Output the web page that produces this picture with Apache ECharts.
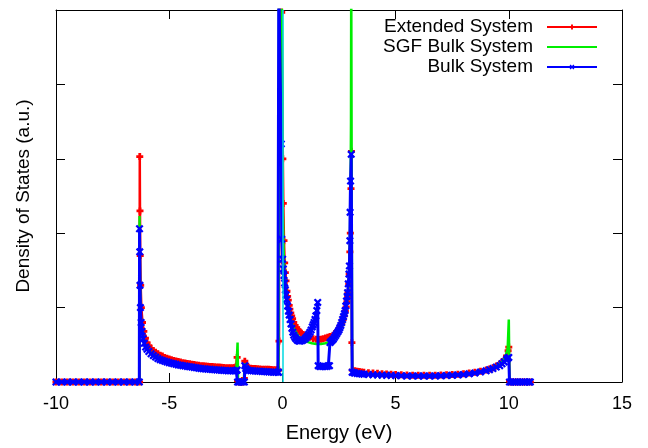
<!DOCTYPE html>
<html><head><meta charset="utf-8">
<script src="https://cdn.jsdelivr.net/npm/echarts@6/dist/echarts.min.js"></script>
<style>html,body{margin:0;padding:0;background:#fff}#c{width:648px;height:448px}</style>
</head><body><div id="c"></div>
<script>
const seriesNames = ['Extended System', 'SGF Bulk System', 'Bulk System'];
const xTickLabels = ['-10', '-5', '0', '5', '10', '15'];
const xTickValues = [-10, -5, 0, 5, 10, 15];
const fermiEnergy = 0;

const extendedSystem = [
[-10,0],[-9.75,0],[-9.5,0],[-9.25,0],[-9,0],[-8.75,0],[-8.5,0],[-8.25,0],[-8,0],[-7.75,0],[-7.5,0],[-7.25,0],[-7,0],[-6.75,0],[-6.5,0],[-6.31,0],
[-6.30,3.03],[-6.29,2.3],[-6.28,1.7],[-6.26,1.3],[-6.23,1.0],[-6.18,0.8],[-6.12,0.68],[-6.05,0.59],[-5.98,0.53],[-5.9,0.49],[-5.8,0.45],[-5.7,0.42],[-5.6,0.4],[-5.5,0.38],[-5.4,0.36],[-5.3,0.35],[-5.2,0.33],[-5.1,0.32],[-5.0,0.31],[-4.9,0.3],[-4.8,0.29],[-4.7,0.283],[-4.6,0.275],[-4.5,0.268],[-4.4,0.26],[-4.3,0.255],[-4.2,0.25],[-4.1,0.245],[-4.0,0.24],[-3.9,0.235],[-3.8,0.23],[-3.7,0.225],[-3.6,0.22],[-3.5,0.218],[-3.4,0.215],[-3.3,0.212],[-3.2,0.21],[-3.1,0.207],[-3.0,0.205],[-2.9,0.202],[-2.8,0.2],[-2.7,0.197],[-2.6,0.195],[-2.5,0.192],[-2.4,0.19],[-2.3,0.19],[-2.2,0.19],[-2.12,0.19],[-2.06,0.2],
[-2.0,0.33],[-1.98,0.02],[-1.92,0],[-1.84,0],[-1.76,0],[-1.68,0.05],[-1.66,0.28],[-1.62,0.24],[-1.55,0.2],[-1.5,0.19],[-1.4,0.185],[-1.3,0.183],[-1.2,0.18],[-1.1,0.178],[-1.0,0.175],[-0.9,0.173],[-0.8,0.17],[-0.7,0.17],[-0.6,0.17],[-0.5,0.167],[-0.4,0.165],[-0.3,0.163],[-0.2,0.16],[-0.16,0.16],
[-0.15,0.55],[-0.13,5.4],[-0.03,4.97],[0.02,3.0],[0.04,2.4],[0.07,1.9],[0.1,1.6],[0.13,1.47],[0.16,1.36],[0.2,1.22],[0.23,1.15],[0.26,1.1],[0.3,1.03],[0.33,0.98],[0.37,0.93],[0.41,0.89],[0.45,0.85],[0.5,0.8],[0.56,0.76],[0.63,0.73],[0.7,0.7],[0.75,0.68],[0.83,0.66],[0.92,0.64],[1.0,0.625],[1.1,0.61],[1.2,0.6],[1.36,0.58],[1.5,0.575],[1.6,0.57],[1.7,0.575],[1.8,0.58],[1.9,0.59],[2.0,0.6],[2.1,0.61],[2.24,0.63],[2.32,0.65],[2.4,0.68],[2.48,0.71],[2.55,0.75],[2.62,0.79],[2.68,0.84],[2.73,0.89],[2.78,0.95],[2.82,1.01],[2.85,1.08],[2.88,1.14],[2.9,1.2],[2.93,1.32],[2.95,1.45],[2.98,1.75],[3.0,2.0],[3.03,2.6],[3.05,3.1],
[3.07,0.53],[3.09,0.16],[3.2,0.15],[3.3,0.145],[3.4,0.14],[3.5,0.135],[3.6,0.13],[3.8,0.125],[4.0,0.12],[4.2,0.116],[4.4,0.112],[4.6,0.108],[4.8,0.104],[5.0,0.1],[5.25,0.097],[5.5,0.095],[5.75,0.092],[6.0,0.09],[6.25,0.09],[6.5,0.09],[6.75,0.092],[7.0,0.095],[7.25,0.097],[7.5,0.1],[7.75,0.105],[8.0,0.11],[8.25,0.12],[8.5,0.13],[8.75,0.145],[9.0,0.16],[9.15,0.175],[9.3,0.19],[9.45,0.215],[9.6,0.24],[9.7,0.27],[9.8,0.3],[9.9,0.35],[9.97,0.42],[10.0,0.47],
[10.03,0.02],[10.06,0],[10.2,0],[10.35,0],[10.5,0],[10.65,0],[10.8,0],[10.95,0]
];

const sgfBulkSystem = [
[-10,0],[-8,0],[-6.32,0],[-6.31,2.23],[-6.29,1.35],[-6.27,1.0],[-6.24,0.8],[-6.19,0.66],[-6.13,0.57],[-6.06,0.5],[-5.98,0.46],[-5.9,0.42],[-5.8,0.39],[-5.6,0.35],[-5.4,0.32],[-5.2,0.3],[-5.0,0.28],[-4.6,0.25],[-4.2,0.23],[-3.8,0.21],[-3.4,0.195],[-3.0,0.185],[-2.6,0.175],[-2.2,0.17],[-2.03,0.18],
[-1.98,0.53],[-1.96,0.02],[-1.7,0.02],[-1.67,0.25],[-1.6,0.18],[-1.2,0.165],[-0.8,0.16],[-0.4,0.155],[-0.17,0.15],
[-0.15,5.5],[-0.03,5.5],[0.0,2.6],[0.05,1.8],[0.1,1.45],[0.2,1.12],[0.3,0.93],[0.4,0.8],[0.5,0.72],[0.7,0.62],[0.9,0.57],[1.1,0.54],[1.3,0.52],[1.5,0.51],[1.7,0.51],[1.9,0.52],[2.1,0.54],[2.3,0.58],[2.5,0.66],[2.65,0.76],[2.75,0.87],[2.85,1.05],[2.92,1.3],[2.97,1.7],[3.01,2.5],[3.03,3.5],[3.04,5.5],[3.07,5.5],
[3.08,0.13],[3.4,0.12],[4.0,0.105],[5.0,0.09],[6.0,0.085],[7.0,0.09],[8.0,0.105],[8.5,0.12],[9.0,0.15],[9.4,0.2],[9.7,0.27],[9.85,0.34],[9.95,0.45],[10.0,0.84],
[10.03,0],[10.95,0]
];

const bulkSystem = [
[-10,0],[-9.75,0],[-9.5,0],[-9.25,0],[-9,0],[-8.75,0],[-8.5,0],[-8.25,0],[-8,0],[-7.75,0],[-7.5,0],[-7.25,0],[-7,0],[-6.75,0],[-6.5,0],[-6.32,0],
[-6.31,2.06],[-6.30,1.75],[-6.29,1.3],[-6.27,1.0],[-6.24,0.8],[-6.2,0.68],[-6.15,0.58],[-6.1,0.52],[-6.04,0.47],[-5.98,0.44],[-5.9,0.41],[-5.8,0.38],[-5.7,0.355],[-5.6,0.335],[-5.5,0.315],[-5.4,0.3],[-5.3,0.29],[-5.2,0.28],[-5.1,0.27],[-5.0,0.26],[-4.9,0.253],[-4.8,0.245],[-4.7,0.238],[-4.6,0.23],[-4.5,0.225],[-4.4,0.22],[-4.3,0.215],[-4.2,0.21],[-4.1,0.205],[-4.0,0.2],[-3.9,0.196],[-3.8,0.19],[-3.7,0.186],[-3.6,0.18],[-3.5,0.178],[-3.4,0.175],[-3.3,0.172],[-3.2,0.17],[-3.1,0.167],[-3.0,0.165],[-2.9,0.162],[-2.8,0.16],[-2.7,0.158],[-2.6,0.155],[-2.5,0.153],[-2.4,0.15],[-2.3,0.15],[-2.2,0.15],[-2.12,0.15],[-2.04,0.15],
[-2.0,0.16],[-1.98,0],[-1.92,0],[-1.84,0],[-1.76,0],[-1.68,0],[-1.66,0.22],[-1.62,0.18],[-1.55,0.16],[-1.5,0.155],[-1.4,0.152],[-1.3,0.15],[-1.2,0.148],[-1.1,0.146],[-1.0,0.144],[-0.9,0.142],[-0.8,0.14],[-0.7,0.138],[-0.6,0.136],[-0.5,0.134],[-0.4,0.132],[-0.3,0.13],[-0.2,0.13],[-0.17,0.13],
[-0.16,5.4],[-0.08,5.4],[-0.05,3.2],[-0.03,1.92],[0.01,1.65],[0.04,1.52],[0.07,1.43],[0.1,1.33],[0.13,1.24],[0.16,1.17],[0.19,1.11],[0.23,1.02],[0.27,0.95],[0.3,0.9],[0.34,0.84],[0.38,0.78],[0.42,0.72],[0.46,0.67],[0.5,0.63],[0.55,0.6],[0.6,0.58],[0.66,0.56],[0.72,0.55],[0.78,0.55],[0.85,0.555],[0.92,0.565],[1.0,0.58],[1.06,0.6],[1.12,0.62],[1.17,0.645],[1.22,0.67],[1.27,0.7],[1.32,0.74],[1.36,0.77],[1.4,0.8],[1.44,0.84],[1.48,0.89],[1.52,0.96],[1.56,1.07],
[1.58,0.22],[1.65,0.21],[1.72,0.21],[1.8,0.21],[1.88,0.21],[1.96,0.21],[2.03,0.22],[2.08,0.22],
[2.1,0.53],[2.15,0.545],[2.2,0.56],[2.25,0.575],[2.3,0.6],[2.35,0.625],[2.4,0.65],[2.45,0.675],[2.5,0.7],[2.54,0.73],[2.58,0.76],[2.62,0.8],[2.66,0.84],[2.7,0.88],[2.74,0.92],[2.77,0.96],[2.8,1.02],[2.83,1.09],[2.86,1.15],[2.88,1.2],[2.91,1.32],[2.94,1.45],[2.96,1.56],[2.98,1.9],[2.99,2.28],[3.01,2.7],[3.04,3.06],
[3.08,0.13],[3.15,0.125],[3.2,0.12],[3.3,0.115],[3.4,0.11],[3.5,0.107],[3.6,0.104],[3.8,0.1],[4.0,0.097],[4.2,0.094],[4.4,0.092],[4.6,0.09],[4.8,0.088],[5.0,0.086],[5.25,0.084],[5.5,0.082],[5.75,0.081],[6.0,0.08],[6.25,0.08],[6.5,0.08],[6.75,0.081],[7.0,0.083],[7.25,0.086],[7.5,0.09],[7.75,0.095],[8.0,0.1],[8.25,0.11],[8.5,0.12],[8.75,0.135],[9.0,0.15],[9.15,0.165],[9.3,0.18],[9.45,0.2],[9.6,0.22],[9.7,0.245],[9.8,0.27],[9.9,0.3],[9.95,0.32],[10.0,0.33],
[10.03,0],[10.1,0],[10.2,0],[10.3,0],[10.4,0],[10.5,0],[10.6,0],[10.7,0],[10.8,0],[10.9,0],[10.95,0]
];

const FONT = "'Liberation Sans', Arial, Helvetica, sans-serif";
const BLACK = '#000';
const RED = '#ff0000', GREEN = '#00ee00', BLUE = '#0000ff', CYAN = '#00d8e0';
const crossSym = 'path://M0,2L2,0L5,3L8,0L10,2L7,5L10,8L8,10L5,7L2,10L0,8L3,5Z';
const plusSym = 'path://M3,0L7,0L7,3L10,3L10,7L7,7L7,10L3,10L3,7L0,7L0,3L3,3Z';

function frameAxis(extra) {
  return Object.assign({
    type: 'value',
    axisLine: { show: true, onZero: false, lineStyle: { color: BLACK, width: 1 } },
    axisTick: { show: true, inside: true, length: 9, lineStyle: { color: BLACK, width: 1 } },
    splitLine: { show: false },
    axisLabel: { show: false }
  }, extra);
}

const chart = echarts.init(document.getElementById('c'), null, { renderer: 'canvas' });
chart.setOption({
  animation: false,
  backgroundColor: '#fff',
  grid: { left: 56, right: 26, top: 10, bottom: 65, containLabel: false },
  legend: {
    orient: 'vertical', right: 50, top: 17, align: 'right', padding: 0,
    itemWidth: 50, itemHeight: 6, itemGap: 0,
    textStyle: { fontSize: 19, fontFamily: FONT, color: BLACK, padding: [0, 9, 0, 0], lineHeight: 20 },
    data: [
      { name: seriesNames[0] },
      { name: seriesNames[1], itemStyle: { opacity: 0 } },
      { name: seriesNames[2] }
    ]
  },
  xAxis: [
    frameAxis({
      position: 'bottom', min: xTickValues[0], max: xTickValues[xTickValues.length - 1], interval: 5,
      axisLabel: { show: true, color: BLACK, fontSize: 18, fontFamily: FONT, margin: 13,
        formatter: v => xTickLabels[xTickValues.indexOf(v)] },
      name: 'Energy (eV)', nameLocation: 'middle', nameGap: 41,
      nameTextStyle: { fontSize: 20, fontFamily: FONT, color: BLACK }
    }),
    frameAxis({ position: 'top', min: xTickValues[0], max: xTickValues[xTickValues.length - 1], interval: 5 })
  ],
  yAxis: [
    frameAxis({
      position: 'left', min: 0, max: 5, interval: 1,
      name: 'Density of States (a.u.)', nameLocation: 'middle', nameGap: 23, nameRotate: 90,
      nameTextStyle: { fontSize: 19, fontFamily: FONT, color: BLACK }
    }),
    frameAxis({ position: 'right', min: 0, max: 5, interval: 1 })
  ],
  series: [
    { name: seriesNames[0], type: 'line', data: extendedSystem, clip: true,
      symbol: plusSym, symbolSize: 7, color: RED,
      lineStyle: { width: 2.5, color: RED }, itemStyle: { color: RED }, z: 2 },
    { name: seriesNames[1], type: 'line', data: sgfBulkSystem, clip: true,
      symbol: 'none', color: GREEN,
      lineStyle: { width: 2.5, color: GREEN }, itemStyle: { color: GREEN }, z: 3 },
    { name: seriesNames[2], type: 'line', data: bulkSystem, clip: true,
      symbol: crossSym, symbolSize: 8, color: BLUE,
      lineStyle: { width: 3, color: BLUE }, itemStyle: { color: BLUE }, z: 4 },
    { name: 'Fermi level', type: 'line', data: [], z: 5,
      markLine: { silent: true, symbol: 'none', label: { show: false },
        lineStyle: { color: CYAN, width: 1.5, type: 'solid' },
        data: [{ xAxis: fermiEnergy }] } }
  ]
});
</script>
</body></html>
